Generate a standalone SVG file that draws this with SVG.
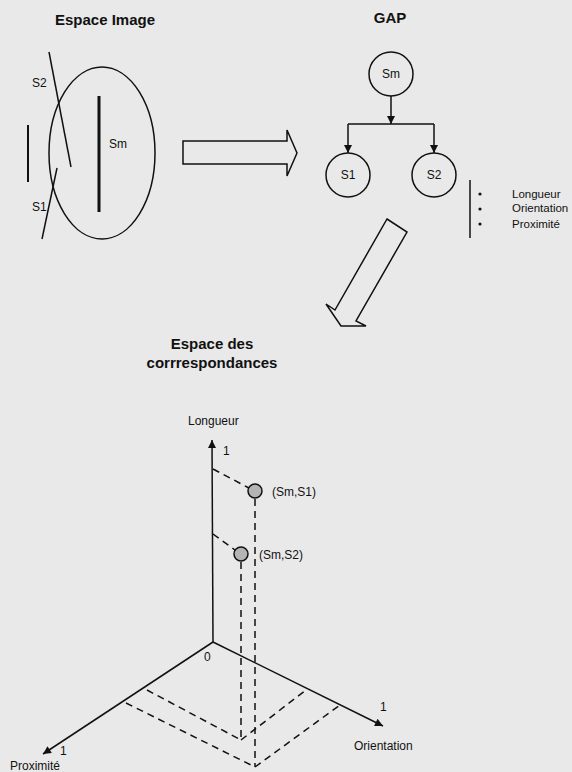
<svg xmlns="http://www.w3.org/2000/svg" width="572" height="772" viewBox="0 0 572 772">
<style>
text{font-family:"Liberation Sans",Arial,sans-serif;fill:#111}
.t{font-size:15px;font-weight:bold}
.l{font-size:12px}
.s{font-size:11.5px}
.ln{stroke:#111;stroke-width:1.5;fill:none}
.th{stroke:#111;stroke-width:3;fill:none}
.d{stroke:#111;stroke-width:1.5;fill:none;stroke-dasharray:7 5}
.nd{fill:none;stroke:#111;stroke-width:1.5}
.pt{fill:#b4b4b4;stroke:#111;stroke-width:1.5}
</style>
<defs>
<marker id="ah2" viewBox="0 0 10 10" refX="10" refY="5" markerWidth="11" markerHeight="8" markerUnits="userSpaceOnUse" orient="auto">
<path d="M0,0 L10,5 L0,10 z" fill="#111"/>
</marker>
</defs>
<rect width="572" height="772" fill="#e9e9e9"/>

<g id="espace-image">
<text class="t" x="105" y="25" text-anchor="middle">Espace Image</text>
<ellipse class="ln" cx="102" cy="153" rx="53" ry="86"/>
<line class="th" x1="99" y1="96" x2="99" y2="212"/>
<text class="l" x="109" y="148">Sm</text>
<line class="ln" x1="49" y1="52" x2="71" y2="167"/>
<text class="l" x="32" y="87">S2</text>
<line class="ln" x1="28" y1="125" x2="28" y2="182" style="stroke-width:2"/>
<line class="ln" x1="57" y1="168" x2="42" y2="239"/>
<text class="l" x="32" y="211">S1</text>
</g>

<g id="arrow-right">
<polygon class="ln" points="183,141 287,141 287,130 297,153 287,176 287,164 183,164"/>
</g>

<g id="gap">
<text class="t" x="390" y="23" text-anchor="middle">GAP</text>
</g>
<g id="node-sm">
<circle class="nd" cx="391" cy="74" r="22"/>
<text class="l" x="391" y="78" text-anchor="middle">Sm</text>
</g>
<g id="node-s1">
<circle class="nd" cx="348" cy="175" r="22"/>
<text class="l" x="348" y="179" text-anchor="middle">S1</text>
</g>
<g id="node-s2">
<circle class="nd" cx="434" cy="175" r="22"/>
<text class="l" x="434" y="179" text-anchor="middle">S2</text>
</g>
<g id="connectors">
<path class="ln" d="M391,96 V124" marker-end="url(#ah2)"/>
<path class="ln" d="M348,124 H434"/>
<path class="ln" d="M348,124 V153" marker-end="url(#ah2)"/>
<path class="ln" d="M434,124 V153" marker-end="url(#ah2)"/>
</g>

<g id="legend">
<line class="ln" x1="470" y1="180" x2="470" y2="238"/>
<circle cx="480" cy="194" r="1.6" fill="#111"/>
<circle cx="480" cy="209" r="1.6" fill="#111"/>
<circle cx="480" cy="224" r="1.6" fill="#111"/>
<text class="s" x="512" y="198">Longueur</text>
<text class="s" x="512" y="212">Orientation</text>
<text class="s" x="512" y="228">Proximité</text>
</g>

<g id="arrow-diag">
<polygon class="ln" points="387,219 407,232 356,321 366,326 341,326 326,304 335,310"/>
</g>

<g id="espace-correspondances">
<text class="t" x="212" y="349" text-anchor="middle">Espace des</text>
<text class="t" x="212" y="368" text-anchor="middle">corrrespondances</text>
</g>

<g id="axes">
<line class="ln" x1="213" y1="642" x2="212" y2="440" marker-end="url(#ah2)"/>
<line class="ln" x1="213" y1="642" x2="43" y2="754" marker-end="url(#ah2)"/>
<line class="ln" x1="213" y1="642" x2="383" y2="726" marker-end="url(#ah2)"/>
<text class="l" x="188" y="425">Longueur</text>
<text class="l" x="223" y="455">1</text>
<text class="l" x="204" y="661">0</text>
<text class="l" x="60" y="755">1</text>
<text class="l" x="10" y="770">Proximité</text>
<text class="l" x="380" y="711">1</text>
<text class="l" x="354" y="750">Orientation</text>
</g>

<g id="projections">
<line class="d" x1="213" y1="469" x2="249" y2="488"/>
<line class="d" x1="213" y1="534" x2="235" y2="550"/>
<line class="d" x1="255" y1="499" x2="255" y2="767"/>
<line class="d" x1="241" y1="562" x2="241" y2="740"/>
<line class="d" x1="147" y1="690" x2="241" y2="740"/>
<line class="d" x1="241" y1="740" x2="306" y2="690"/>
<line class="d" x1="126" y1="703" x2="255" y2="767"/>
<line class="d" x1="255" y1="767" x2="340" y2="705"/>
</g>

<g id="point-sm-s1">
<circle class="pt" cx="255" cy="491" r="7"/>
<text class="l" x="272" y="496">(Sm,S1)</text>
</g>
<g id="point-sm-s2">
<circle class="pt" cx="241" cy="554" r="7"/>
<text class="l" x="259" y="559">(Sm,S2)</text>
</g>
</svg>
